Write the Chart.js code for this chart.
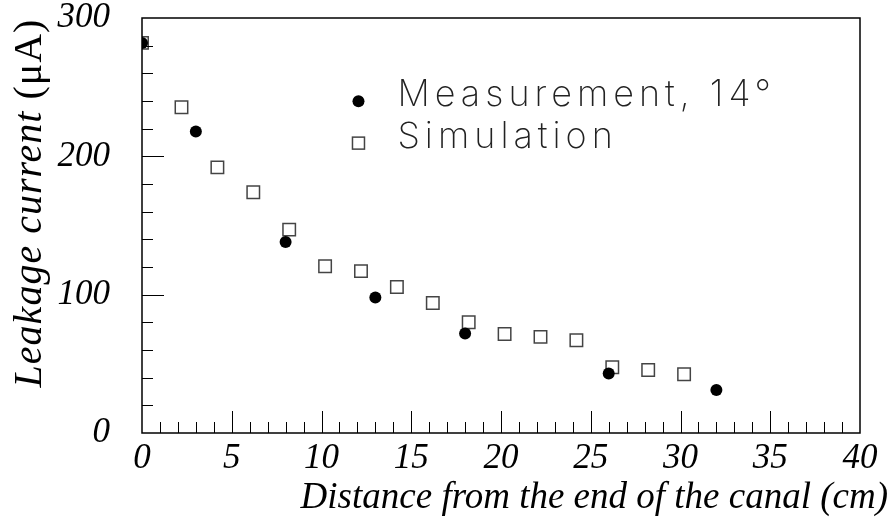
<!DOCTYPE html>
<html>
<head>
<meta charset="utf-8">
<script src="https://cdn.jsdelivr.net/npm/chart.js@4"></script>
<style>
  html, body { margin: 0; padding: 0; background: #fff; }
  #wrap { width: 893px; height: 527px; }
</style>
</head>
<body>
<div id="wrap"><canvas id="chart"></canvas></div>
<script>
// measured points (filled circles)
const measX = [0, 3, 8, 13, 18, 26, 32];
const measY = [282, 218, 138, 98, 72, 43, 31];

// simulation points (open squares)
const simX = [0, 2.2, 4.2, 6.2, 8.2, 10.2, 12.2, 14.2, 16.2, 18.2, 20.2, 22.2, 24.2, 26.2, 28.2, 30.2];
const simY = [282, 235.5, 192, 174, 147, 120.5, 117, 105.5, 94, 80, 71.5, 69.5, 67, 47.5, 45.5, 42.5];

const xTicks = [0, 5, 10, 15, 20, 25, 30, 35, 40];
const yTicks = [0, 100, 200, 300];

const seriesNames = ["Measurement, 14°", "Simulation"];
const xTitle = "Distance from the end of the canal (cm)";
const yTitle = ["Leakage current ", "(μA)"];

const SERIF = "'Liberation Serif', 'Times New Roman', serif";
const SANS = "Inter, 'DejaVu Sans', sans-serif";

const toPoints = (xs, ys) => xs.map((x, i) => ({ x: x, y: ys[i] }));

// frame, inward ticks, legend and axis titles
const decorations = {
  id: "decorations",
  afterDatasetsDraw(chart) {
    const { ctx, chartArea: a, scales } = chart;
    const xs = scales.x, ys = scales.y;
    ctx.save();
    ctx.strokeStyle = "#000";
    ctx.lineWidth = 1;

    // x ticks: minor every 1, major every 5
    ctx.beginPath();
    for (let v = 1; v < 40; v++) {
      const px = Math.round(xs.getPixelForValue(v)) + 0.5;
      const len = v % 5 === 0 ? 22 : 11;
      ctx.moveTo(px, a.bottom);
      ctx.lineTo(px, a.bottom - len);
    }
    // y ticks: minor every 20, major every 100
    for (let v = 20; v < 300; v += 20) {
      const py = Math.round(ys.getPixelForValue(v)) + 0.5;
      const len = v % 100 === 0 ? 22 : 11;
      ctx.moveTo(a.left, py);
      ctx.lineTo(a.left + len, py);
    }
    ctx.stroke();

    // frame
    ctx.lineWidth = 1.5;
    ctx.strokeRect(a.left, a.top, a.right - a.left, a.bottom - a.top);

    // legend
    const lx = a.left + (a.right - a.left) * 0.3015;
    const ly1 = a.top + (a.bottom - a.top) * 0.2005;
    const ly2 = a.top + (a.bottom - a.top) * 0.3015;
    ctx.fillStyle = "#000";
    ctx.beginPath();
    ctx.arc(lx, ly1, 6, 0, Math.PI * 2);
    ctx.fill();
    ctx.strokeStyle = "#444";
    ctx.lineWidth = 1.5;
    ctx.strokeRect(lx - 6, ly2 - 6, 12, 12);

    ctx.fillStyle = "#222";
    ctx.font = "200 36px " + SANS;
    ctx.letterSpacing = "5px";
    ctx.textAlign = "left";
    ctx.textBaseline = "alphabetic";
    ctx.fillText(seriesNames[0], lx + 39, ly1 + 5);
    ctx.fillText(seriesNames[1], lx + 39, ly2 + 5);

    // x title
    ctx.letterSpacing = "0px";
    ctx.fillStyle = "#000";
    ctx.font = "italic 37px " + SERIF;
    ctx.textAlign = "right";
    ctx.fillText(xTitle, chart.width - 5, chart.height - 19);

    // y title (rotated)
    ctx.letterSpacing = "1px";
    ctx.translate(30, 203);
    ctx.rotate(-Math.PI / 2);
    ctx.textAlign = "left";
    ctx.textBaseline = "middle";
    ctx.font = "italic 40px " + SERIF;
    const w1 = ctx.measureText(yTitle[0]).width;
    ctx.font = "40px " + SERIF;
    const w2 = ctx.measureText(yTitle[1]).width;
    const start = -(w1 + w2) / 2;
    ctx.font = "italic 40px " + SERIF;
    ctx.fillText(yTitle[0], start, 0);
    ctx.font = "40px " + SERIF;
    ctx.fillText(yTitle[1], start + w1, 0);
    ctx.restore();
  }
};

new Chart(document.getElementById("chart"), {
  type: "scatter",
  data: {
    datasets: [
      {
        label: seriesNames[0],
        data: toPoints(measX, measY),
        pointStyle: "circle",
        pointRadius: 6,
        pointBackgroundColor: "#000",
        pointBorderColor: "#000",
        pointBorderWidth: 0,
        clip: 0,
      },
      {
        label: seriesNames[1],
        data: toPoints(simX, simY),
        pointStyle: "rect",
        pointRadius: 8.8,
        pointBackgroundColor: "rgba(255,255,255,0)",
        pointBorderColor: "#444",
        pointBorderWidth: 1.5,
        clip: 0,
      },
    ],
  },
  options: {
    responsive: true,
    maintainAspectRatio: false,
    animation: false,
    events: [],
    layout: { padding: { left: 0, top: 18, right: 33, bottom: 0 } },
    plugins: {
      legend: { display: false },
      tooltip: { enabled: false },
    },
    scales: {
      x: {
        type: "linear",
        min: 0,
        max: 40,
        afterBuildTicks: (s) => { s.ticks = xTicks.map((v) => ({ value: v })); },
        afterFit: (s) => { s.height = 94; s.paddingLeft = 0; s.paddingRight = 0; },
        grid: { display: false },
        border: { display: false },
        ticks: {
          color: "#000",
          padding: -3,
          maxRotation: 0,
          autoSkip: false,
          font: { family: SERIF, size: 35, style: "italic" },
        },
      },
      y: {
        type: "linear",
        min: 0,
        max: 300,
        afterBuildTicks: (s) => { s.ticks = yTicks.map((v) => ({ value: v })); },
        afterFit: (s) => { s.width = 142; s.paddingTop = 0; s.paddingBottom = 0; },
        grid: { display: false },
        border: { display: false },
        ticks: {
          color: "#000",
          padding: 24,
          autoSkip: false,
          font: { family: SERIF, size: 35, style: "italic" },
        },
      },
    },
  },
  plugins: [decorations],
});
</script>
</body>
</html>
